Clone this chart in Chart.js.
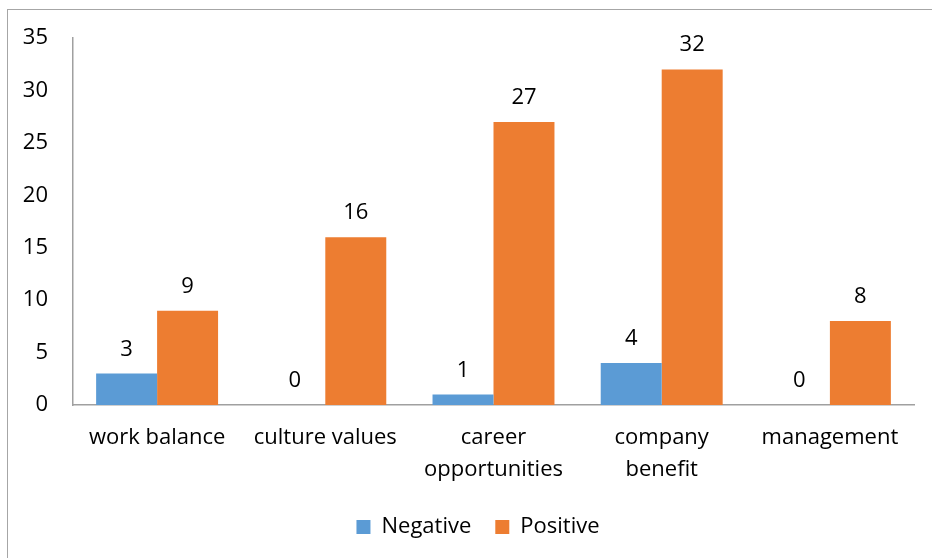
<!DOCTYPE html>
<html>
<head>
<meta charset="utf-8">
<script src="https://cdn.jsdelivr.net/npm/chart.js@4.4.1/dist/chart.umd.min.js"></script>
<style>
  html, body { margin: 0; padding: 0; background: #fff; overflow: hidden; width: 932px; height: 558px; }
  #frame {
    position: absolute; left: 7px; top: 9px;
    width: 940px; height: 560px;
    border: 1px solid #a6a6a6;
  }
  #chart { display: block; }
</style>
</head>
<body>
<div id="frame"><canvas id="chart" width="940" height="560"></canvas></div>
<script>
// ================= DATA =================
const categories = ["work balance", "culture values", ["career", "opportunities"], ["company", "benefit"], "management"];
const negative = [3, 0, 1, 4, 0];
const positive = [9, 16, 27, 32, 8];
const yTicks = [0, 5, 10, 15, 20, 25, 30, 35];

const FONT = "'Open Sans', 'Noto Sans', sans-serif";

// ================= VALUE LABELS =================
const valueLabels = {
  id: "valueLabels",
  afterDatasetsDraw(chart) {
    const ctx = chart.ctx;
    ctx.save();
    ctx.font = "22px " + FONT;
    ctx.fillStyle = "#000";
    ctx.textAlign = "center";
    ctx.textBaseline = "alphabetic";
    chart.data.datasets.forEach((ds, i) => {
      chart.getDatasetMeta(i).data.forEach((bar, j) => {
        ctx.fillText(String(ds.data[j]), bar.x, bar.y - 18);
      });
    });
    ctx.restore();
  }
};

// legend in the original sits centred on the whole (cropped) frame
const legendShift = {
  id: "legendShift",
  afterLayout(chart) {
    chart.legend.left += 12;
    chart.legend.right += 12;
  }
};

// ================= CHART =================
new Chart(document.getElementById("chart"), {
  type: "bar",
  data: {
    labels: categories,
    datasets: [
      { label: "Negative", data: negative, backgroundColor: "#5b9bd5", borderWidth: 0 },
      { label: "Positive", data: positive, backgroundColor: "#ed7d31", borderWidth: 0 }
    ]
  },
  options: {
    responsive: false,
    animation: false,
    events: [],
    layout: { padding: { left: 10, right: 34, top: 28, bottom: 22 } },
    datasets: { bar: { categoryPercentage: 0.725, barPercentage: 1 } },
    scales: {
      x: {
        grid: { display: false },
        border: { color: "#a0a0a0", width: 1.5 },
        ticks: {
          color: "#000",
          font: { family: FONT, size: 22, lineHeight: 1.45 },
          padding: 9,
          autoSkip: false,
          maxRotation: 0
        },
        afterFit: s => { s.height = 87; }
      },
      y: {
        min: yTicks[0],
        max: yTicks[yTicks.length - 1],
        grid: { display: false },
        border: { color: "#a0a0a0", width: 1.5 },
        ticks: {
          stepSize: yTicks[1] - yTicks[0],
          color: "#000",
          font: { family: FONT, size: 22 },
          padding: 17
        },
        afterFit: s => {
          s.width = 55;
          s.paddingTop = 13;
          s.paddingBottom = 13;
        }
      }
    },
    plugins: {
      legend: {
        position: "bottom",
        labels: {
          boxWidth: 14,
          boxHeight: 14,
          padding: 24,
          color: "#000",
          font: { family: FONT, size: 22 }
        }
      },
      tooltip: { enabled: false }
    }
  },
  plugins: [valueLabels, legendShift]
});
</script>
</body>
</html>
